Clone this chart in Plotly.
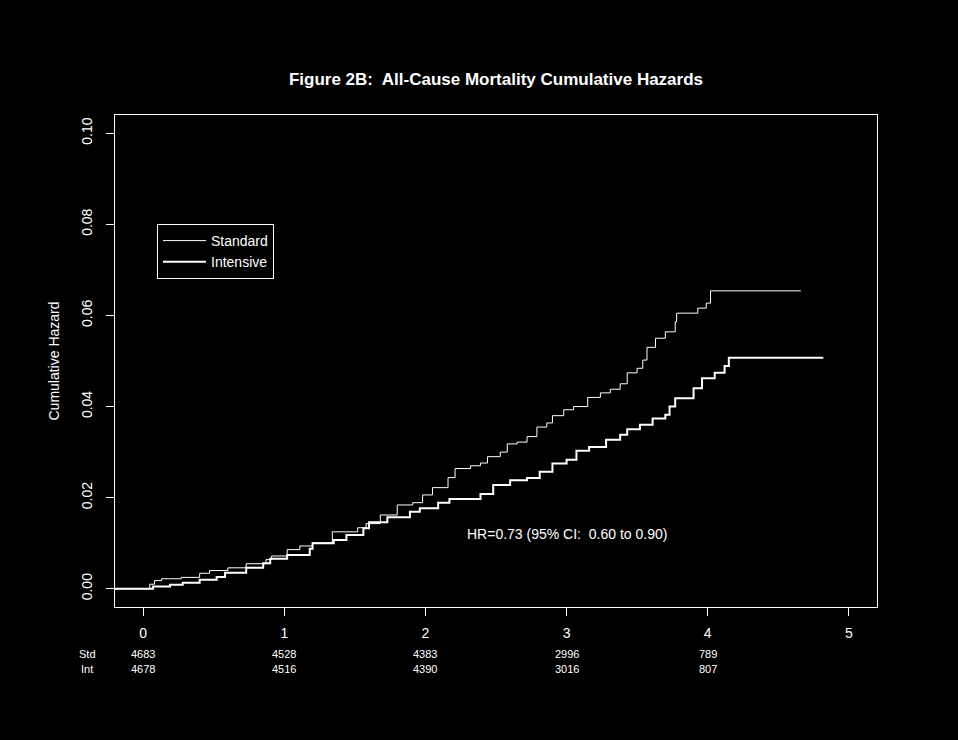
import plotly.graph_objects as go

# ---- data ----
std_time = [-0.2, 0.046, 0.08, 0.13, 0.27, 0.40, 0.47, 0.60, 0.73, 0.87, 0.91, 1.02, 1.11, 1.20,
            1.34, 1.52, 1.58, 1.68, 1.80, 1.91, 1.98, 2.05, 2.16, 2.21, 2.32, 2.39, 2.44, 2.53,
            2.58, 2.65, 2.72, 2.79, 2.86, 2.90, 2.98, 3.05, 3.15, 3.24, 3.31, 3.38, 3.43, 3.50,
            3.54, 3.57, 3.63, 3.70, 3.77, 3.78, 3.93, 3.99, 4.02, 4.66]
std_haz = [0.0, 0.0010, 0.0018, 0.0022, 0.0025, 0.0034, 0.0040, 0.0046, 0.0055, 0.0064, 0.0072,
           0.0086, 0.0094, 0.0101, 0.0125, 0.0134, 0.0143, 0.0162, 0.0184, 0.0189, 0.0206, 0.0222,
           0.0244, 0.0264, 0.0270, 0.0276, 0.0290, 0.0300, 0.0318, 0.0322, 0.0334, 0.0355, 0.0364,
           0.0380, 0.0393, 0.0400, 0.0420, 0.0430, 0.0438, 0.0450, 0.0474, 0.0484, 0.0502, 0.0530,
           0.0550, 0.0564, 0.0586, 0.0605, 0.0616, 0.0627, 0.0654, 0.0654]

int_time = [-0.2, 0.07, 0.19, 0.28, 0.40, 0.52, 0.58, 0.73, 0.85, 0.90, 1.02, 1.18, 1.20, 1.35,
            1.44, 1.56, 1.60, 1.73, 1.89, 1.96, 2.09, 2.17, 2.39, 2.48, 2.60, 2.72, 2.81, 2.90,
            3.00, 3.07, 3.16, 3.28, 3.38, 3.43, 3.52, 3.61, 3.70, 3.73, 3.77, 3.90, 3.96, 4.05,
            4.12, 4.15, 4.82]
int_haz = [0.0, 0.0005, 0.0009, 0.0013, 0.0020, 0.0026, 0.0035, 0.0046, 0.0056, 0.0066, 0.0074,
           0.0088, 0.0100, 0.0107, 0.0118, 0.0133, 0.0146, 0.0157, 0.0169, 0.0177, 0.0189, 0.0197,
           0.0208, 0.0228, 0.0238, 0.0243, 0.0257, 0.0275, 0.0283, 0.0303, 0.0311, 0.0327, 0.0338,
           0.0350, 0.0360, 0.0374, 0.0382, 0.0400, 0.0418, 0.0440, 0.0462, 0.0474, 0.0489, 0.0507,
           0.0507]

x_ticks = [0, 1, 2, 3, 4, 5]
y_ticks = [0.00, 0.02, 0.04, 0.06, 0.08, 0.10]
y_ticktext = ["0.00", "0.02", "0.04", "0.06", "0.08", "0.10"]

risk_times = [0, 1, 2, 3, 4]
risk_std = [4683, 4528, 4383, 2996, 789]
risk_int = [4678, 4516, 4390, 3016, 807]

FONT = "Liberation Sans, Arial, Helvetica, sans-serif"

fig = go.Figure()
fig.add_trace(go.Scatter(x=std_time, y=std_haz, mode="lines", name="Standard",
                         line=dict(color="white", width=1, shape="hv")))
fig.add_trace(go.Scatter(x=int_time, y=int_haz, mode="lines", name="Intensive",
                         line=dict(color="white", width=2, shape="hv")))

ROW1 = (607 - 654) / 492
ROW2 = (607 - 669) / 492
small = dict(family=FONT, size=11, color="white")
annotations = [
    dict(x=3, y=0.012, xref="x", yref="y", text="HR=0.73 (95% CI:  0.60 to 0.90)",
         xanchor="center", yanchor="middle", showarrow=False,
         font=dict(family=FONT, size=14, color="white")),
    dict(x=(87 - 115) / 762, y=ROW1, xref="paper", yref="paper", text="Std", showarrow=False,
         xanchor="center", yanchor="middle", font=small),
    dict(x=(87 - 115) / 762, y=ROW2, xref="paper", yref="paper", text="Int", showarrow=False,
         xanchor="center", yanchor="middle", font=small),
]
for t, s, i in zip(risk_times, risk_std, risk_int):
    annotations.append(dict(x=t, y=ROW1, xref="x", yref="paper", text=str(s), showarrow=False,
                            xanchor="center", yanchor="middle", font=small))
    annotations.append(dict(x=t, y=ROW2, xref="x", yref="paper", text=str(i), showarrow=False,
                            xanchor="center", yanchor="middle", font=small))

fig.update_layout(
    width=958, height=740,
    margin=dict(l=115, r=81, t=115, b=133),
    paper_bgcolor="black", plot_bgcolor="black",
    font=dict(family=FONT, size=14, color="white"),
    title=dict(text="<b>Figure 2B:  All-Cause Mortality Cumulative Hazards</b>",
               x=0.5, xref="paper", xanchor="center",
               y=1 - 79 / 740, yref="container", yanchor="middle",
               font=dict(family=FONT, size=17, color="white")),
    showlegend=True,
    legend=dict(x=(157 - 115) / 762, y=(607 - 224) / 492, xanchor="left", yanchor="top",
                bgcolor="black", bordercolor="white", borderwidth=1, itemwidth=43,
                font=dict(family=FONT, size=14, color="white")),
    annotations=annotations,
)
fig.update_xaxes(range=[-0.2, 5.2], tickvals=x_ticks, ticks="outside", ticklen=8,
                 tickcolor="white", showline=True, mirror=True, linecolor="white", linewidth=1,
                 showgrid=False, zeroline=False, ticklabelstandoff=5,
                 tickfont=dict(family=FONT, size=14, color="white"))
fig.update_yaxes(range=[-0.004, 0.104], tickvals=y_ticks, ticktext=y_ticktext, tickangle=-90,
                 ticks="outside", ticklen=8, tickcolor="white", showline=True, mirror=True,
                 linecolor="white", linewidth=1, showgrid=False, zeroline=False,
                 ticklabelstandoff=8,
                 title=dict(text="Cumulative Hazard", standoff=16,
                            font=dict(family=FONT, size=14, color="white")),
                 tickfont=dict(family=FONT, size=14, color="white"))

fig.write_html("out.html")
